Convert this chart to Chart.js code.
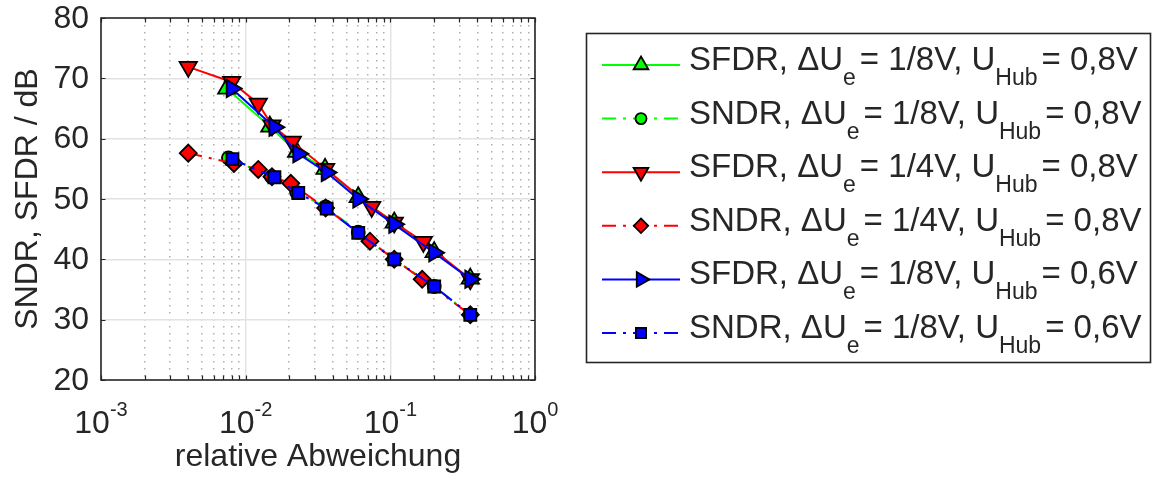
<!DOCTYPE html>
<html><head><meta charset="utf-8">
<script src="https://cdn.jsdelivr.net/npm/chart.js@4/dist/chart.umd.min.js"></script>
<style>html,body{margin:0;padding:0;background:#fff;}#wrap{width:1153px;height:483px;position:relative;}</style>
</head><body><div id="wrap"><canvas id="c" width="1153" height="483"></canvas></div>
<script>
// ---- tick labels ----
const xTickValues = [0.001, 0.01, 0.1, 1];
const xTickExponents = ['-3', '-2', '-1', '0'];
const yTickValues = [20, 30, 40, 50, 60, 70, 80];
const xAxisTitle = 'relative Abweichung';
const yAxisTitle = 'SNDR, SFDR / dB';

// ---- series (legend parts) ----
const seriesMetric = ['SFDR', 'SNDR', 'SFDR', 'SNDR', 'SFDR', 'SNDR'];
const seriesDeltaU = ['1/8V', '1/8V', '1/4V', '1/4V', '1/8V', '1/8V'];
const seriesUHub   = ['0,8V', '0,8V', '0,8V', '0,8V', '0,6V', '0,6V'];

// ---- values ----
const greenSfdrX = [0.0074, 0.0147, 0.0225, 0.0354, 0.060, 0.1064, 0.201, 0.357];
const greenSfdrY = [68.3, 62.0, 57.8, 55.0, 50.3, 46.1, 41.2, 36.8];
const greenSndrX = [0.0076, 0.0151, 0.0225, 0.0357, 0.060, 0.1064, 0.201, 0.357];
const greenSndrY = [56.8, 53.7, 51.1, 48.7, 44.5, 40.0, 35.5, 30.8];
const redSfdrX = [0.00401, 0.0080, 0.01222, 0.0152, 0.0210, 0.0357, 0.0743, 0.1064, 0.169, 0.357];
const redSfdrY = [71.9, 69.4, 65.8, 62.2, 59.5, 55.0, 48.7, 46.1, 42.9, 36.7];
const redSndrX = [0.00401, 0.0083, 0.01222, 0.0152, 0.0205, 0.0357, 0.0723, 0.1064, 0.166, 0.357];
const redSndrY = [57.6, 55.9, 54.9, 53.7, 52.6, 48.5, 43.0, 40.0, 36.7, 30.8];
const blueSfdrX = [0.0080, 0.0158, 0.0231, 0.0363, 0.060, 0.1064, 0.201, 0.357];
const blueSfdrY = [68.3, 61.9, 57.5, 54.4, 50.0, 45.8, 41.1, 36.7];
const blueSndrX = [0.0081, 0.0158, 0.0231, 0.0363, 0.060, 0.1064, 0.201, 0.357];
const blueSndrY = [56.6, 53.6, 51.0, 48.4, 44.4, 40.0, 35.5, 30.8];

const FONT = '"Liberation Sans", Arial, sans-serif';
const TXT = '#262626';
const DASHDOT = [14, 7, 3, 7];

function pts(xs, ys) { return xs.map((x, i) => ({x: x, y: ys[i]})); }

const styles = [
  {color: '#00ff00', dash: [], pointStyle: 'triangle', rotation: 0, radius: 10},
  {color: '#00ff00', dash: DASHDOT, pointStyle: 'circle', rotation: 0, radius: 6.5},
  {color: '#ff0000', dash: [], pointStyle: 'triangle', rotation: 180, radius: 10},
  {color: '#ff0000', dash: DASHDOT, pointStyle: 'rectRot', rotation: 0, radius: 8.5},
  {color: '#0000ff', dash: [], pointStyle: 'triangle', rotation: 90, radius: 10},
  {color: '#0000ff', dash: DASHDOT, pointStyle: 'rect', rotation: 0, radius: 8.5}
];
const seriesData = [
  pts(greenSfdrX, greenSfdrY), pts(greenSndrX, greenSndrY),
  pts(redSfdrX, redSfdrY), pts(redSndrX, redSndrY),
  pts(blueSfdrX, blueSfdrY), pts(blueSndrX, blueSndrY)
];

const datasets = seriesData.map((d, i) => ({
  label: seriesMetric[i] + ', ΔU_e= ' + seriesDeltaU[i] + ', U_Hub= ' + seriesUHub[i],
  data: d,
  xAxisID: 'x', yAxisID: 'y',
  borderColor: styles[i].color,
  backgroundColor: styles[i].color,
  borderWidth: 2,
  borderDash: styles[i].dash,
  pointStyle: styles[i].pointStyle,
  pointRotation: styles[i].rotation,
  pointRadius: styles[i].radius,
  pointBackgroundColor: styles[i].color,
  pointBorderColor: '#000000',
  pointBorderWidth: 1.8,
  showLine: true, fill: false, tension: 0,
  order: 6 - i
}));

const minorTicks = [];
for (let e = -3; e < 0; e++) for (let m = 2; m <= 9; m++) minorTicks.push(m * Math.pow(10, e));

const decor = {
  id: 'decor',
  afterDatasetsDraw(chart) {
    const ctx = chart.ctx, a = chart.chartArea;
    const xs = chart.scales.x, ys = chart.scales.y;
    ctx.save();
    ctx.setLineDash([]);
    ctx.strokeStyle = TXT;
    ctx.lineWidth = 1.2;
    const tl = 4.5;
    ctx.beginPath();
    xTickValues.concat(minorTicks).forEach(v => {
      const p = Math.round(xs.getPixelForValue(v)) + 0.5;
      ctx.moveTo(p, a.bottom); ctx.lineTo(p, a.bottom - tl);
      ctx.moveTo(p, a.top); ctx.lineTo(p, a.top + tl);
    });
    yTickValues.forEach(v => {
      const p = Math.round(ys.getPixelForValue(v)) + 0.5;
      ctx.moveTo(a.left, p); ctx.lineTo(a.left + tl, p);
      ctx.moveTo(a.right, p); ctx.lineTo(a.right - tl, p);
    });
    ctx.stroke();
    ctx.lineWidth = 1.6;
    ctx.strokeRect(a.left, a.top, a.right - a.left, a.bottom - a.top);
    ctx.restore();
  },
  afterDraw(chart) {
    const ctx = chart.ctx, a = chart.chartArea;
    const xs = chart.scales.x, ys = chart.scales.y;
    ctx.save();
    ctx.fillStyle = TXT;
    // y tick labels
    ctx.font = '32px ' + FONT;
    ctx.textAlign = 'right'; ctx.textBaseline = 'middle';
    yTickValues.forEach(v => {
      ctx.fillText(String(v), 89, ys.getPixelForValue(v) + 1);
    });
    // x tick labels with superscript exponents
    ctx.textBaseline = 'alphabetic';
    xTickValues.forEach((v, i) => {
      const p = xs.getPixelForValue(v);
      ctx.font = '32px ' + FONT;
      const w1 = ctx.measureText('10').width;
      ctx.font = '20px ' + FONT;
      const w2 = ctx.measureText(xTickExponents[i]).width;
      const s = p - (w1 + w2) / 2;
      ctx.textAlign = 'left';
      ctx.font = '32px ' + FONT;
      ctx.fillText('10', s, 433);
      ctx.font = '20px ' + FONT;
      ctx.fillText(xTickExponents[i], s + w1, 416);
    });
    // axis titles
    ctx.font = '32px ' + FONT;
    ctx.textAlign = 'center';
    ctx.fillText(xAxisTitle, (a.left + a.right) / 2, 466);
    ctx.save();
    ctx.translate(37, (a.top + a.bottom) / 2);
    ctx.rotate(-Math.PI / 2);
    ctx.fillText(yAxisTitle, 0, 0);
    ctx.restore();

    // legend
    const bx = 586.5, by = 33.5, bw = 564, bh = 329;
    ctx.fillStyle = '#ffffff';
    ctx.fillRect(bx, by, bw, bh);
    ctx.strokeStyle = TXT; ctx.lineWidth = 1.6; ctx.setLineDash([]);
    ctx.strokeRect(bx, by, bw, bh);
    const rowY0 = 65, rowDY = 53.6;
    for (let i = 0; i < 6; i++) {
      const y = rowY0 + i * rowDY;
      const st = styles[i];
      ctx.save();
      ctx.strokeStyle = st.color; ctx.lineWidth = 2;
      ctx.setLineDash(st.dash);
      ctx.beginPath(); ctx.moveTo(602, y); ctx.lineTo(680, y); ctx.stroke();
      ctx.setLineDash([]);
      ctx.fillStyle = st.color; ctx.strokeStyle = '#000000'; ctx.lineWidth = 1.8;
      Chart.helpers.drawPoint(ctx, {pointStyle: st.pointStyle, rotation: st.rotation, radius: st.radius * 0.85, borderWidth: 1.8}, 641, y);
      ctx.restore();
      // text with subscripts
      ctx.fillStyle = TXT; ctx.textAlign = 'left'; ctx.textBaseline = 'alphabetic';
      const parts = [
        [seriesMetric[i] + ', ΔU', false],
        ['e', true],
        ['= ' + seriesDeltaU[i] + ', U', false],
        ['Hub', true],
        ['= ' + seriesUHub[i], false]
      ];
      let x = 689;
      parts.forEach(([t, sub]) => {
        ctx.font = (sub ? '23px ' : '33px ') + FONT;
        ctx.fillText(t, x, y + (sub ? 20 : 5));
        x += ctx.measureText(t).width + (sub ? 4 : 0);
      });
    }
    ctx.restore();
  }
};

new Chart(document.getElementById('c'), {
  type: 'line',
  data: {datasets: datasets},
  plugins: [decor],
  options: {
    responsive: false,
    animation: false,
    devicePixelRatio: 1,
    layout: {autoPadding: false, padding: {left: 0, top: 18, right: 618, bottom: 0}},
    plugins: {legend: {display: false}, tooltip: {enabled: false}},
    scales: {
      x: {
        type: 'logarithmic', position: 'bottom', min: 0.001, max: 1,
        afterBuildTicks: s => { s.ticks = xTickValues.map(v => ({value: v, major: true})); },
        afterFit: s => { s.height = 103; },
        ticks: {display: false, autoSkip: false},
        grid: {color: '#e2e2e2', lineWidth: 1.4, drawTicks: false},
        border: {display: false}
      },
      x2: {
        type: 'logarithmic', position: 'bottom', min: 0.001, max: 1,
        afterBuildTicks: s => { s.ticks = minorTicks.map(v => ({value: v})); },
        afterFit: s => { s.height = 0; },
        ticks: {display: false, autoSkip: false},
        grid: {color: '#b0b0b0', lineWidth: 1.5, drawTicks: false},
        border: {display: false, dash: [1.5, 5.5]}
      },
      y: {
        type: 'linear', min: 20, max: 80,
        afterBuildTicks: s => { s.ticks = yTickValues.map(v => ({value: v})); },
        afterFit: s => { s.width = 101; },
        ticks: {display: false, autoSkip: false},
        grid: {color: c => (c.tick && (c.tick.value === 20 || c.tick.value === 80)) ? 'rgba(0,0,0,0)' : '#e2e2e2',
               lineWidth: 1.4, drawTicks: false},
        border: {display: false}
      }
    }
  }
});
</script></body></html>
